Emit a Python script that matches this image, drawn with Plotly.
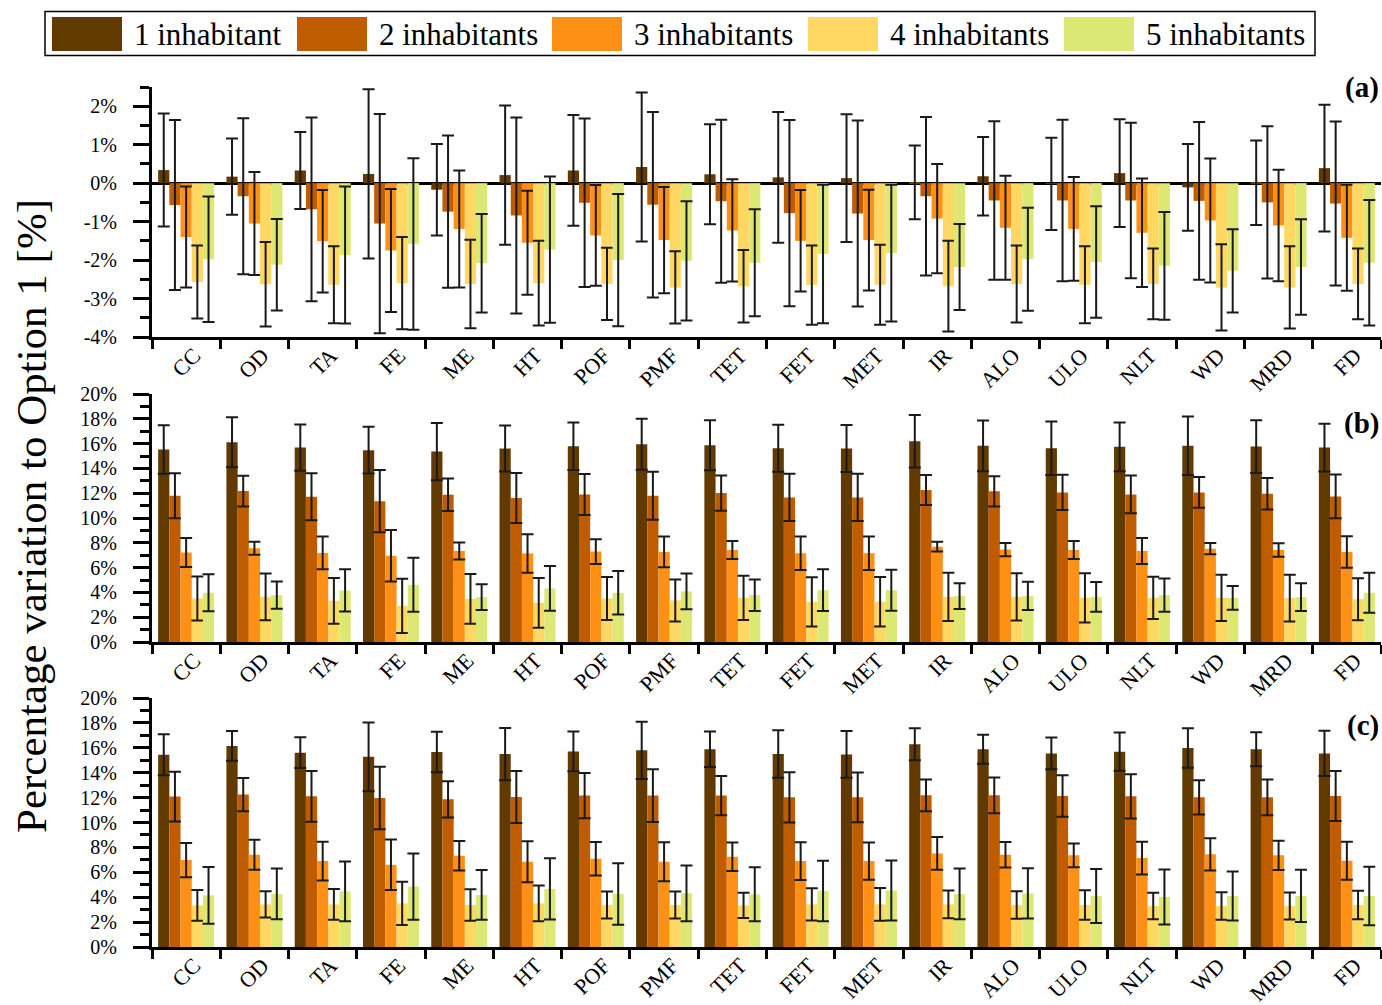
import plotly.graph_objects as go

# ---- categories and series ----
categories = ["CC", "OD", "TA", "FE", "ME", "HT", "POF", "PMF", "TET", "FET",
              "MET", "IR", "ALO", "ULO", "NLT", "WD", "MRD", "FD"]
series_names = ["1 inhabitant", "2 inhabitants", "3 inhabitants",
                "4 inhabitants", "5 inhabitants"]

# ---- panel (a): percentage variation ----
a1 = [0.34, 0.17, 0.33, 0.24, -0.17, 0.21, 0.33, 0.42, 0.23, 0.15, 0.13, 0.02, 0.18, -0.02, 0.26, -0.11, 0.01, 0.39]
a1_err = [1.47, 0.99, 1.00, 2.20, 1.19, 1.81, 1.44, 1.94, 1.30, 1.70, 1.66, 0.96, 1.02, 1.20, 1.40, 1.13, 1.10, 1.65]
a2 = [-0.57, -0.34, -0.68, -1.05, -0.74, -0.84, -0.51, -0.56, -0.47, -0.78, -0.79, -0.34, -0.45, -0.45, -0.45, -0.46, -0.50, -0.53]
a2_err = [2.21, 2.03, 2.39, 2.85, 1.98, 2.55, 2.19, 2.41, 2.12, 2.42, 2.42, 2.06, 2.06, 2.10, 2.02, 2.05, 1.98, 2.13]
a3 = [-1.40, -1.05, -1.51, -1.75, -1.19, -1.55, -1.36, -1.48, -1.23, -1.50, -1.48, -0.92, -1.16, -1.19, -1.29, -0.97, -1.10, -1.42]
a3_err = [1.31, 1.34, 1.33, 1.60, 1.52, 1.35, 1.31, 1.38, 1.33, 1.32, 1.31, 1.42, 1.35, 1.35, 1.41, 1.61, 1.45, 1.38]
a4 = [-2.57, -2.63, -2.64, -2.60, -2.62, -2.60, -2.62, -2.71, -2.68, -2.65, -2.64, -2.68, -2.62, -2.64, -2.62, -2.71, -2.71, -2.62]
a4_err = [0.95, 1.10, 1.00, 1.20, 1.15, 1.10, 0.94, 0.94, 0.94, 1.03, 1.04, 1.18, 1.00, 1.00, 0.92, 1.12, 1.07, 0.92]
a5 = [-1.98, -2.12, -1.87, -1.58, -2.08, -1.73, -2.00, -2.02, -2.07, -1.84, -1.82, -2.18, -1.98, -2.05, -2.15, -2.28, -2.18, -2.07]
a5_err = [1.63, 1.19, 1.78, 2.23, 1.28, 1.90, 1.72, 1.55, 1.39, 1.80, 1.78, 1.12, 1.34, 1.45, 1.40, 1.08, 1.24, 1.63]

# ---- panel (b) ----
b1 = [15.52, 16.11, 15.68, 15.47, 15.36, 15.60, 15.79, 15.95, 15.87, 15.63, 15.60, 16.19, 15.82, 15.63, 15.74, 15.82, 15.76, 15.68]
b1_err = [1.95, 2.01, 1.86, 1.89, 2.31, 1.85, 1.92, 2.05, 2.02, 1.90, 1.89, 2.12, 2.04, 2.16, 1.96, 2.36, 2.13, 1.92]
b2 = [11.79, 12.17, 11.71, 11.36, 11.88, 11.61, 11.90, 11.79, 12.01, 11.66, 11.66, 12.25, 12.15, 12.06, 11.90, 12.06, 11.96, 11.74]
b2_err = [1.81, 1.24, 1.90, 2.51, 1.31, 2.02, 1.65, 1.94, 1.42, 1.90, 1.90, 1.21, 1.22, 1.42, 1.52, 1.24, 1.27, 1.77]
b3 = [7.21, 7.56, 7.18, 6.96, 7.34, 7.13, 7.29, 7.26, 7.42, 7.15, 7.15, 7.69, 7.45, 7.42, 7.34, 7.53, 7.42, 7.26]
b3_err = [1.17, 0.53, 1.32, 2.08, 0.69, 1.55, 1.00, 1.24, 0.72, 1.35, 1.35, 0.39, 0.53, 0.72, 1.04, 0.45, 0.54, 1.27]
b4 = [3.51, 3.64, 3.32, 2.91, 3.48, 3.16, 3.51, 3.35, 3.56, 3.24, 3.24, 3.64, 3.64, 3.56, 3.56, 3.56, 3.54, 3.45]
b4_err = [1.78, 1.88, 1.85, 2.19, 2.01, 2.01, 1.74, 1.70, 1.78, 1.98, 2.00, 1.94, 1.90, 1.99, 1.70, 1.87, 1.89, 1.69]
b5 = [3.97, 3.78, 4.16, 4.62, 3.62, 4.32, 3.97, 4.08, 3.78, 4.18, 4.18, 3.70, 3.72, 3.64, 3.78, 3.56, 3.62, 3.97]
b5_err = [1.50, 1.10, 1.70, 2.18, 1.03, 1.80, 1.75, 1.44, 1.27, 1.69, 1.65, 1.04, 1.13, 1.20, 1.35, 0.96, 1.12, 1.62]

# ---- panel (c) ----
c1 = [15.44, 16.15, 15.61, 15.28, 15.66, 15.50, 15.71, 15.80, 15.88, 15.50, 15.47, 16.28, 15.88, 15.55, 15.69, 15.98, 15.88, 15.55]
c1_err = [1.64, 1.20, 1.24, 2.76, 1.62, 2.10, 1.59, 2.30, 1.42, 1.91, 1.87, 1.29, 1.16, 1.27, 1.54, 1.59, 1.36, 1.82]
c2 = [12.08, 12.24, 12.10, 11.97, 11.86, 12.05, 12.16, 12.16, 12.16, 12.02, 12.02, 12.18, 12.18, 12.13, 12.10, 12.02, 12.02, 12.13]
c2_err = [2.00, 1.34, 2.03, 2.51, 1.46, 2.09, 1.82, 2.12, 1.58, 2.02, 2.00, 1.27, 1.43, 1.67, 1.78, 1.38, 1.43, 2.00]
c3 = [6.98, 7.41, 6.90, 6.60, 7.33, 6.85, 7.09, 6.85, 7.25, 6.90, 6.90, 7.52, 7.41, 7.36, 7.14, 7.44, 7.36, 6.93]
c3_err = [1.37, 1.20, 1.55, 2.03, 1.19, 1.65, 1.34, 1.56, 1.15, 1.51, 1.50, 1.32, 1.03, 0.96, 1.31, 1.29, 1.17, 1.52]
c4 = [3.34, 3.42, 3.42, 3.50, 3.37, 3.50, 3.37, 3.37, 3.34, 3.42, 3.42, 3.42, 3.37, 3.37, 3.29, 3.29, 3.29, 3.37]
c4_err = [1.23, 1.05, 1.23, 1.74, 1.26, 1.44, 1.09, 1.09, 1.02, 1.30, 1.32, 1.12, 1.11, 1.19, 1.07, 1.10, 1.09, 1.15]
c5 = [4.15, 4.26, 4.47, 4.85, 4.18, 4.66, 4.26, 4.31, 4.23, 4.50, 4.53, 4.26, 4.31, 4.10, 4.02, 4.10, 4.10, 4.10]
c5_err = [2.28, 2.04, 2.40, 2.67, 2.00, 2.46, 2.47, 2.24, 2.17, 2.43, 2.41, 2.04, 2.02, 2.17, 2.21, 1.97, 2.10, 2.35]

# ---- tick labels ----
a_tickvals = [-4, -3, -2, -1, 0, 1, 2]
a_ticktext = ["-4%", "-3%", "-2%", "-1%", "0%", "1%", "2%"]
bc_tickvals = [0, 2, 4, 6, 8, 10, 12, 14, 16, 18, 20]
bc_ticktext = ["0%", "2%", "4%", "6%", "8%", "10%", "12%", "14%", "16%", "18%", "20%"]

# ---- styling ----
colors = ["#623A00", "#BF5C00", "#FF9016", "#FFD864", "#DCE873"]
FONT = "Liberation Serif, Times New Roman, serif"
W, H = 1382, 1005


def px_x(x):
    return x / W


def px_y(y):
    return 1 - y / H


panels = [
    ([a1, a2, a3, a4, a5], [a1_err, a2_err, a3_err, a4_err, a5_err], ""),
    ([b1, b2, b3, b4, b5], [b1_err, b2_err, b3_err, b4_err, b5_err], "2"),
    ([c1, c2, c3, c4, c5], [c1_err, c2_err, c3_err, c4_err, c5_err], "3"),
]

fig = go.Figure()
for vals, errs, sfx in panels:
    for name, color, v, e in zip(series_names, colors, vals, errs):
        fig.add_trace(go.Bar(
            x=categories, y=v, name=name,
            marker=dict(color=color, line=dict(width=0)),
            error_y=dict(type="data", array=e, visible=True,
                         color="#1a1a1a", thickness=2, width=6),
            xaxis="x" + sfx, yaxis="y" + sfx, showlegend=False,
        ))

x_domain = [px_x(152), px_x(1381)]
y_domains = [
    [px_y(337), px_y(87)],
    [px_y(642), px_y(394)],
    [px_y(947), px_y(698)],
]

common_x = dict(
    type="category", domain=x_domain, range=[-0.5, len(categories) - 0.5],
    showline=True, linewidth=3, linecolor="black", mirror=False,
    ticks="outside", tickson="boundaries", ticklen=9, tickwidth=3,
    tickcolor="black", tickangle=-45, showgrid=False, zeroline=False,
    automargin=False, ticklabelshift=8, ticklabelstandoff=-6,
    tickfont=dict(family=FONT, size=22, color="black"), layer="above traces",
)
common_y = dict(
    showline=True, linewidth=3, linecolor="black", ticks="outside",
    ticklen=16, tickwidth=3, tickcolor="black", showgrid=False,
    tickmode="array", ticklabelstandoff=12, automargin=False,
    tickfont=dict(family=FONT, size=20, color="black"), layer="above traces",
)

layout = dict(
    width=W, height=H, margin=dict(l=0, r=0, t=0, b=0, autoexpand=False),
    plot_bgcolor="white", paper_bgcolor="white",
    barmode="group", bargap=0.18, bargroupgap=0,
    font=dict(family=FONT, color="black"),
    showlegend=False,
)
for i, sfx in enumerate(["", "2", "3"]):
    layout["xaxis" + sfx] = dict(common_x, anchor="y" + sfx)
    if i == 0:
        layout["yaxis" + sfx] = dict(
            common_y, domain=y_domains[i], anchor="x" + sfx, range=[-4, 2.5],
            tickvals=a_tickvals, ticktext=a_ticktext,
            zeroline=True, zerolinewidth=3, zerolinecolor="black",
            minor=dict(tickmode="linear", tick0=0, dtick=0.5, ticks="outside",
                       ticklen=9, tickwidth=3, tickcolor="black", showgrid=False),
        )
    else:
        layout["yaxis" + sfx] = dict(
            common_y, domain=y_domains[i], anchor="x" + sfx, range=[0, 20],
            tickvals=bc_tickvals, ticktext=bc_ticktext, zeroline=False,
            minor=dict(tickmode="linear", tick0=0, dtick=1, ticks="outside",
                       ticklen=9, tickwidth=3, tickcolor="black", showgrid=False),
        )
fig.update_layout(**layout)

# panel tags
for tag, ycen in [("(a)", 88), ("(b)", 423), ("(c)", 725)]:
    fig.add_annotation(text="<b>%s</b>" % tag, xref="paper", yref="paper",
                       x=px_x(1381), y=px_y(ycen), xanchor="right", yanchor="middle",
                       showarrow=False, font=dict(family=FONT, size=29, color="black"))

# shared y-axis title
fig.add_annotation(text="Percentage variation to Option 1 [%]", xref="paper", yref="paper",
                   x=px_x(31), y=px_y(516), xanchor="center", yanchor="middle",
                   textangle=-90, showarrow=False,
                   font=dict(family=FONT, size=43, color="black"))

# legend box with wide swatches
fig.add_shape(type="rect", xref="paper", yref="paper",
              x0=px_x(45), x1=px_x(1315), y0=px_y(55.5), y1=px_y(11.5),
              line=dict(color="black", width=1.5), fillcolor="white", layer="above")
swatch_left = [52, 297, 552, 808, 1064]
for name, color, sx in zip(series_names, colors, swatch_left):
    fig.add_shape(type="rect", xref="paper", yref="paper",
                  x0=px_x(sx), x1=px_x(sx + 70), y0=px_y(51), y1=px_y(17),
                  line=dict(width=0), fillcolor=color, layer="above")
    fig.add_annotation(text=name, xref="paper", yref="paper",
                       x=px_x(sx + 80), y=px_y(35), xanchor="left", yanchor="middle",
                       showarrow=False, font=dict(family=FONT, size=31, color="black"))

fig.write_html("out.html")
